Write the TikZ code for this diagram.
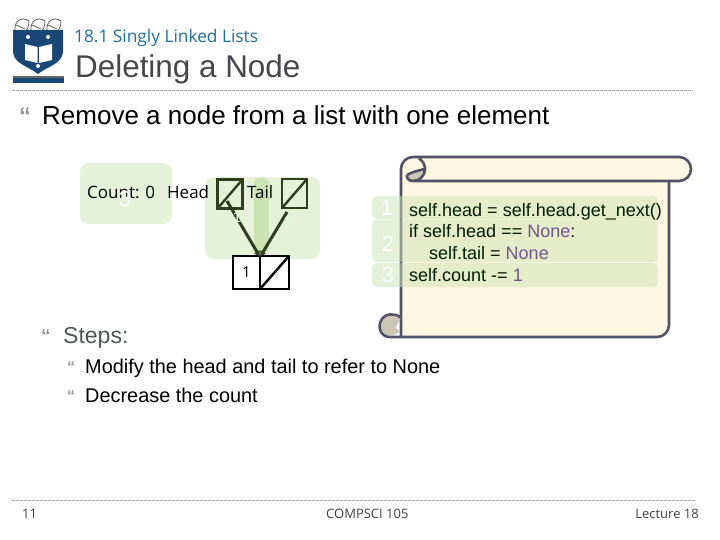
\documentclass[tikz,border=0pt]{standalone}
\usepackage{fontspec}
\usetikzlibrary{arrows.meta}
\setmainfont{Liberation Sans}
\newfontfamily\tahoma{Open Sans}
\definecolor{titleblue}{RGB}{31,110,160}
\definecolor{titlegray}{RGB}{70,70,75}
\definecolor{shield}{RGB}{24,70,118}
\definecolor{bulletgray}{RGB}{150,150,150}
\definecolor{greenbox}{RGB}{229,241,216}
\definecolor{greenbar}{RGB}{203,226,180}
\definecolor{scrollfill}{RGB}{254,247,226}
\definecolor{scrollline}{RGB}{80,82,102}
\definecolor{scrollcurl}{RGB}{203,198,182}
\definecolor{arrowgreen}{RGB}{47,62,30}
\definecolor{nonepurple}{RGB}{112,88,140}
\definecolor{stepsgray}{RGB}{80,85,90}
\tikzset{
 x=1pt,y=-1pt,
 anim/.style={fill=greenbox,rounded corners=9pt},
 num/.style={text=white,font=\fontsize{22}{22}\selectfont,inner sep=0pt},
 lab/.style={anchor=base west,inner sep=0pt,font=\fontsize{17}{17}\selectfont\tahoma,text=black},
 ptrbox/.style={draw=arrowgreen,line width=2.8pt,fill=none,minimum width=25pt,minimum height=29pt,inner sep=0pt,path picture={\draw[arrowgreen,line width=2.4pt] (path picture bounding box.south west)--(path picture bounding box.north east);}},
 conn/.style={draw=arrowgreen,line width=3pt,-{Latex[length=6pt,width=7pt]}},
 code/.style={anchor=base west,inner sep=0pt,font=\fontsize{18}{18}\selectfont,text=black!88!green},
 bullet/.style={inner sep=0pt,text=bulletgray,font=\bfseries},
 body/.style={anchor=base west,inner sep=0pt,text=black},
 seprule/.style={draw=black!35,dash pattern=on 2.5pt off 1.5pt,line width=.6pt},
 scrollstroke/.style={draw=scrollline,line width=2.6pt},
 foot/.style={anchor=base west,inner sep=0pt,font=\fontsize{13}{13}\selectfont\tahoma,text=black!75},
}
\begin{document}
\begin{tikzpicture}
\useasboundingbox (0,0) rectangle (720,540);
\fill[white] (0,0) rectangle (720,540);
% logo
\fill[shield] (13,30) -- (63,30) -- (63,52) .. controls (62,64) and (48,66) .. (38,74) .. controls (28,66) and (14,64) .. (13,52) -- cycle;
\fill[white] (25,44) -- (37.5,47) -- (37.5,63) -- (25,60) -- cycle;
\fill[white] (39,47) -- (52,44) -- (52,60) -- (39,63) -- cycle;
\foreach \cx in {22,38,54}{
 \fill[white] (\cx-7,30) .. controls (\cx-8,21) and (\cx,16) .. (\cx+7,21) .. controls (\cx+7,26) and (\cx+5,30) .. (\cx+4,30) -- cycle;
 \draw[black!70,line width=.7pt] (\cx-7,30) .. controls (\cx-8,21) and (\cx,16) .. (\cx+7,21) .. controls (\cx+7,26) and (\cx+5,30) .. (\cx+4,30);
 \draw[black!70,line width=.7pt] (\cx-6,25) -- (\cx+3,29);
}
\foreach \sx/\sy in {28/37,48/37,38/66}{\fill[white] (\sx,\sy) circle (2pt);}
\fill[black!60] (13,76) rectangle (64,78);
\fill[shield] (13,78) rectangle (64,83);
% headings
\node[anchor=base west,inner sep=0pt,text=titleblue,font=\fontsize{17.3}{17.3}\selectfont\tahoma] (sub) at (74,43) {18.1 Singly Linked Lists};
\node[body,text=titlegray,font=\fontsize{31.4}{31.4}\selectfont] (title) at (75,78) {Deleting a Node};
\draw[seprule] (12,90) -- (693,90);
\node[bullet,font=\bfseries\fontsize{24}{24}\selectfont,anchor=base west] (b0) at (19,125) {“};
\node[body,font=\fontsize{26}{26}\selectfont] (remove) at (42,125) {Remove a node from a list with one element};
% animation boxes
\fill[anim] (80,163) rectangle (172,224);
\fill[anim] (205,177) rectangle (320,259);
\fill[greenbar,rounded corners=5pt] (254,178) rectangle (269,253);
\node[lab] (count) at (87,199) {Count: 0};
\node[num] (n3) at (125,199) {3};
\node[lab] (headl) at (167,199) {Head};
\node[lab] (taill) at (247,199) {Tail};
\node[ptrbox] (headp) at (230,194) {};
\node[ptrbox] (tailp) at (294.5,193.5) {};
\node[draw=black,line width=1.8pt,fill=white,minimum width=27pt,minimum height=33pt,inner sep=0pt,font=\fontsize{15}{15}\selectfont\tahoma] (val) at (246.5,272.5) {1};
\node[draw=black,line width=2.4pt,fill=white,minimum width=29pt,minimum height=33pt,inner sep=0pt,path picture={\draw[black,line width=2.4pt] (path picture bounding box.south west)--(path picture bounding box.north east);}] (nxt) at (274.5,272.5) {};
\coordinate (hfrom) at (227,201);
\coordinate (tfrom) at (287,212);
\coordinate (target) at (260,257);
\draw[conn] (hfrom) -- (target);
\draw[conn] (tfrom) -- (target);
\node[num,font=\fontsize{15}{15}\selectfont] (n1) at (237,217) {1};
\node[num,font=\fontsize{15}{15}\selectfont,text=white!85!green] (n2) at (288,222) {2};
% scroll
\path[fill=scrollfill] (401,169) -- (401,337) -- (657,337) arc (-90:0:12pt) -- (669,181) -- (679,181) arc (-90:90:12pt) -- (413,157) arc (90:180:12pt) -- cycle;
\fill[scrollcurl] (407,175) .. controls (412,172) and (420,170) .. (425,169) arc (0:-90:12pt) .. controls (409,181) and (406,178) .. (407,175) -- cycle;
\draw[scrollstroke] (407,175) .. controls (412,172) and (420,170) .. (425,169);
\draw[scrollstroke] (413,181) .. controls (409,181) and (406,178) .. (407,175);
\draw[scrollstroke] (401,337) -- (401,169) arc (180:90:12pt) -- (679,157) arc (90:-90:12pt) -- (413,181) arc (-90:60:12pt);
\draw[scrollstroke] (669,181) -- (669,325) arc (0:-90:12pt) -- (390,337);
\filldraw[scrollstroke,fill=scrollcurl] (401,318) .. controls (396,313) and (386,313) .. (382,319) .. controls (377,326) and (380,337) .. (390,337);
\fill[scrollcurl] (400,319) .. controls (396,315) and (387,315) .. (383,320) .. controls (379,326) and (382,335.5) .. (390,335.5) .. controls (394,335.5) and (397,334) .. (400,331) -- (393,326) -- cycle;
% code rows
\fill[greenbar,fill opacity=.5,rounded corners=5pt] (372,196) rectangle (658,219);
\fill[greenbar,fill opacity=.5,rounded corners=5pt] (372,219.5) rectangle (658,262);
\fill[greenbar,fill opacity=.5,rounded corners=5pt] (372,263) rectangle (658,287);
\node[num] (r1) at (387,208) {1};
\node[num] (r2) at (388,244) {2};
\node[num] (r3) at (388,275) {3};
\node[code] (c1) at (409,216.5) {self.head = self.head.get\_next()};
\node[code] (c2) at (409,237) {if self.head == \textcolor{nonepurple}{None}:};
\node[code] (c3) at (429,259) {self.tail = \textcolor{nonepurple}{None}};
\node[code] (c4) at (409,281) {self.count -= \textcolor{nonepurple}{1}};
% steps
\node[bullet,font=\bfseries\fontsize{19}{19}\selectfont,anchor=base west] (b1) at (41,342) {“};
\node[body,text=stepsgray,font=\fontsize{23}{23}\selectfont] (steps) at (63,343) {Steps:};
\node[bullet,font=\bfseries\fontsize{16}{16}\selectfont,anchor=base west] (b2) at (67,372) {“};
\node[body,font=\fontsize{19.9}{19.9}\selectfont] (s1) at (85,373) {Modify the head and tail to refer to None};
\node[bullet,font=\bfseries\fontsize{16}{16}\selectfont,anchor=base west] (b3) at (67,401) {“};
\node[body,font=\fontsize{19.9}{19.9}\selectfont] (s2) at (85,402) {Decrease the count};
% footer
\draw[seprule] (12,500) -- (696,500);
\node[foot] (f1) at (22,518) {11};
\node[foot] (f2) at (326,518) {COMPSCI 105};
\node[foot,anchor=base east] (f3) at (699,518) {Lecture 18};
\end{tikzpicture}
\end{document}
